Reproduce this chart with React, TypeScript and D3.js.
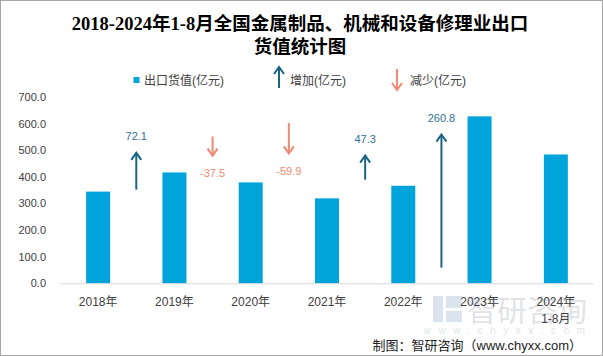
import React from "react";
import * as d3 from "d3";

const categories = ["2018年", "2019年", "2020年", "2021年", "2022年", "2023年", "2024年\n1-8月"];
const exportValues = [344.5, 416.6, 379.1, 319.2, 366.5, 627.3, 484.0];
const changes = [72.1, -37.5, -59.9, 47.3, 260.8];
const changeLabels = ["72.1", "-37.5", "-59.9", "47.3", "260.8"];
const arrowBase = [183.5, 287.5, 314.3, 203, 30.6];
const yTicks = [0, 100, 200, 300, 400, 500, 600, 700];

const W = 603;
const H = 356;
const M = { left: 60, right: 9, top: 97, bottom: 72.7 };
const SANS = "'Liberation Sans', Arial, 'Noto Sans CJK SC', sans-serif";
const SERIF = "'Liberation Serif', 'Times New Roman', 'Noto Sans CJK SC', serif";
const BAR = "#00A3DA";
const UP = "#1A6584";
const UPTXT = "#2F6F93";
const DOWN = "#F08A73";

function Arrow({ x, y1, y2, color }: { x: number; y1: number; y2: number; color: string }) {
  const dir = y2 < y1 ? 1 : -1;
  const hw = 5;
  const hh = 7;
  return (
    <g stroke={color} strokeWidth={2} fill="none">
      <line x1={x} y1={y1} x2={x} y2={y2 + dir * 1} />
      <polyline points={`${x - hw},${y2 + dir * hh} ${x},${y2} ${x + hw},${y2 + dir * hh}`} strokeLinejoin="miter" />
    </g>
  );
}

export default function App() {
  const x = d3
    .scaleBand<string>()
    .domain(categories)
    .range([M.left, W - M.right])
    .paddingInner(0)
    .paddingOuter(0);
  const y = d3.scaleLinear().domain([0, 700]).range([H - M.bottom, M.top]);
  const y2 = d3.scaleLinear().domain([0, 365]).range([H - M.bottom, M.top]);
  const barW = 24;
  const base = y(0);

  return (
    <svg width={W} height={H} style={{ display: "block", position: "absolute", left: 0, top: 0 }}>
      <rect x={0.5} y={0.5} width={W - 1} height={H - 1} fill="#fff" stroke="#a6a6a6" />
      {/* title */}
      <text x={300} y={30} textAnchor="middle" fontFamily={SERIF} fontWeight="bold" fontSize={18.5} fill="#000">
        2018-2024年1-8月全国金属制品、机械和设备修理业出口
      </text>
      <text x={300} y={53} textAnchor="middle" fontFamily={SERIF} fontWeight="bold" fontSize={18.5} fill="#000">
        货值统计图
      </text>

      {/* legend */}
      <rect x={133.5} y={77} width={6} height={6} fill={BAR} />
      <text x={144} y={85} fontFamily={SANS} fontSize={12} fill="#404040">出口货值(亿元)</text>
      <Arrow x={279} y1={88} y2={67} color={UP} />
      <text x={290} y={85} fontFamily={SANS} fontSize={12} fill="#404040">增加(亿元)</text>
      <Arrow x={397} y1={69} y2={90} color={DOWN} />
      <text x={410} y={85} fontFamily={SANS} fontSize={12} fill="#404040">减少(亿元)</text>

      {/* y axis labels */}
      {yTicks.map((t) => (
        <text key={t} x={46} y={y(t) + 4} textAnchor="end" fontFamily={SANS} fontSize={11} fill="#404040">
          {t.toFixed(1)}
        </text>
      ))}

      {/* watermark */}
      <g opacity={0.5}>
        <rect x={433} y={296} width={10} height={26} fill="#b9c8de" />
        <rect x={446} y={296} width={16} height={12} fill="#b9c8de" />
        <rect x={446} y={311} width={16} height={11} fill="#b9c8de" />
        <text x={527} y={321} textAnchor="middle" fontFamily="'Noto Sans CJK SC', sans-serif" fontSize={30} fill="#c4c9d1">
          智研咨询
        </text>
        <text x={508} y={334} textAnchor="middle" fontFamily={SANS} fontSize={10} letterSpacing={7.5} fill="#c4c9d1">
          www.chyxx.com
        </text>
      </g>

      {/* bars */}
      {categories.map((c, i) => (
        <rect
          key={c}
          x={(x(c) as number) + x.bandwidth() / 2 - barW / 2}
          y={y(exportValues[i])}
          width={barW}
          height={base - y(exportValues[i])}
          fill={BAR}
        />
      ))}

      {/* axis line */}
      <line x1={M.left} x2={W - M.right} y1={base + 0.5} y2={base + 0.5} stroke="#d9d9d9" strokeWidth={1} />

      {/* x labels */}
      {categories.map((c) => {
        const cx = (x(c) as number) + x.bandwidth() / 2;
        const lines = c.split("\n");
        return (
          <text key={c} x={cx} y={306} textAnchor="middle" fontFamily={SANS} fontSize={12} fill="#404040">
            {lines.map((l, j) => (
              <tspan key={j} x={cx} dy={j === 0 ? 0 : 17}>
                {l}
              </tspan>
            ))}
          </text>
        );
      })}

      {/* change arrows */}
      {changes.map((v, i) => {
        const ax = x(categories[i + 1]) as number;
        const ys = y2(arrowBase[i]);
        const ye = y2(arrowBase[i] + v);
        const up = v > 0;
        return (
          <g key={i}>
            <Arrow x={ax} y1={ys} y2={ye} color={up ? UP : DOWN} />
            <text
              x={ax}
              y={up ? ye - 13 : ye + 21.5}
              textAnchor="middle"
              fontFamily={SANS}
              fontSize={11}
              fill={up ? UPTXT : DOWN}
            >
              {changeLabels[i]}
            </text>
          </g>
        );
      })}

      {/* source */}
      <text x={582} y={350} textAnchor="end" fontFamily={SANS} fontSize={13} fill="#222">
        制图：智研咨询（www.chyxx.com）
      </text>
    </svg>
  );
}
